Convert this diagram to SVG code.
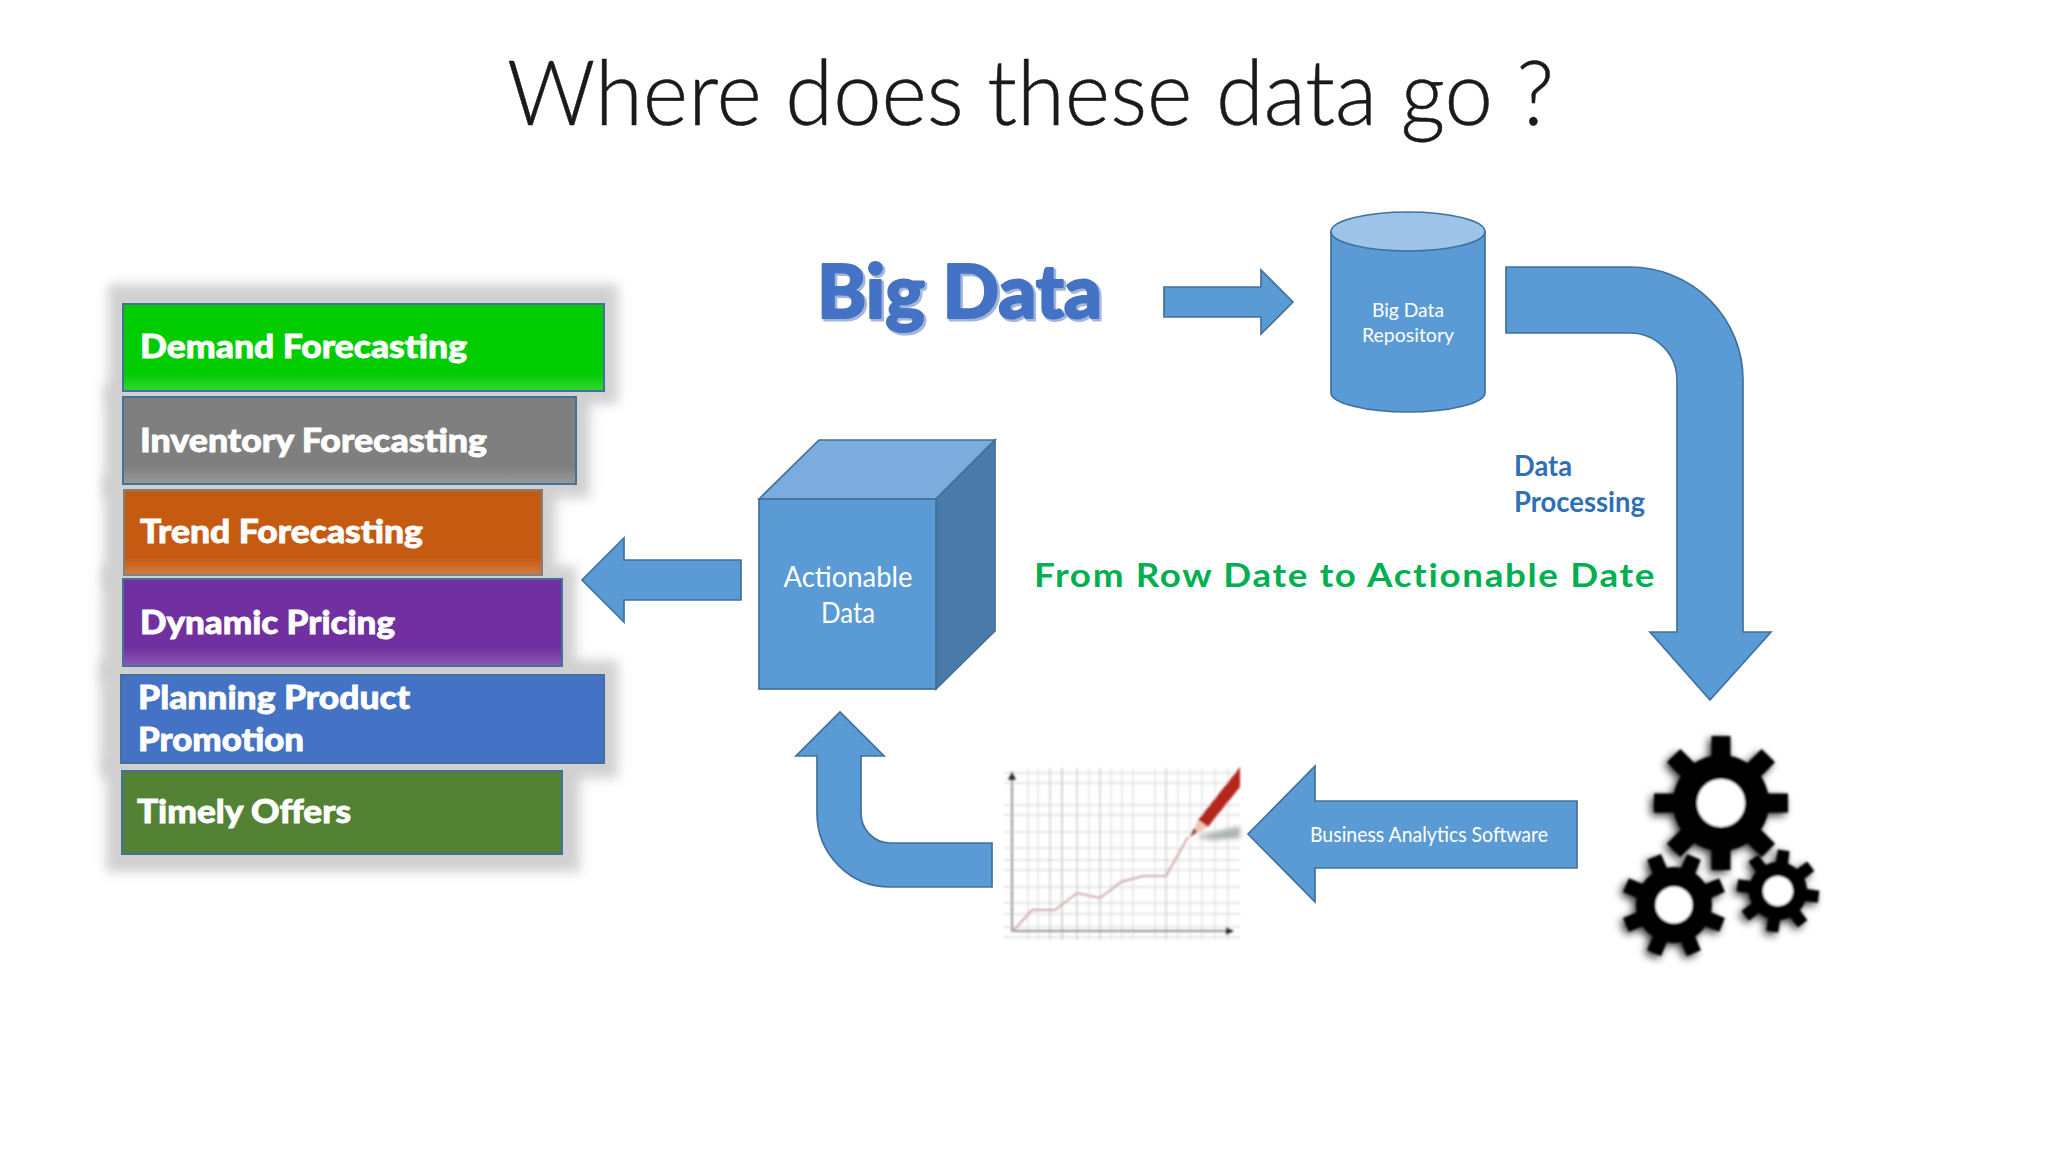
<svg xmlns="http://www.w3.org/2000/svg" width="2048" height="1152" viewBox="0 0 2048 1152">
<defs>
<style>
.blue{fill:#5b9bd5;stroke:#41719c;stroke-width:1.7;stroke-linejoin:miter}
.bar{stroke:#41719c;stroke-width:2}
.halo{fill:#d0d0d0;filter:url(#blur7)}
.lab{font-family:"Lato","Liberation Sans",sans-serif;font-weight:900;font-size:33px;fill:#fff;stroke:#fff;stroke-width:0.8}
.in{font-family:"Lato","Liberation Sans",sans-serif;fill:#fff;text-anchor:middle}
.grid{stroke:#e2dfdf;stroke-width:1.3;fill:none}
.gridd{stroke:#cdc9c9;stroke-width:1.3;fill:none}
</style>
<filter id="blur7" x="-20%" y="-40%" width="140%" height="180%"><feGaussianBlur stdDeviation="6"/></filter>
<filter id="blur1" x="-10%" y="-10%" width="120%" height="120%"><feGaussianBlur stdDeviation="0.9"/></filter>
<filter id="blur3" x="-20%" y="-100%" width="140%" height="300%"><feGaussianBlur stdDeviation="2"/></filter>
<filter id="gear" x="-30%" y="-30%" width="160%" height="160%">
<feGaussianBlur in="SourceAlpha" stdDeviation="4" result="b"/>
<feOffset in="b" dx="-3" dy="3" result="o"/>
<feComponentTransfer in="o" result="s"><feFuncA type="linear" slope="0.8"/></feComponentTransfer>
<feGaussianBlur in="SourceGraphic" stdDeviation="0.8" result="g"/>
<feMerge><feMergeNode in="s"/><feMergeNode in="g"/></feMerge>
</filter>
<linearGradient id="sheen" x1="0" y1="0" x2="0" y2="1">
<stop offset="0.8" stop-color="#fff" stop-opacity="0"/>
<stop offset="1" stop-color="#fff" stop-opacity="0.2"/>
</linearGradient>
</defs>
<rect width="2048" height="1152" fill="#fff"/>
<text id="title" x="507" y="125" font-family="Lato,'Liberation Sans',sans-serif" font-weight="300" font-size="90" fill="#1a1a1a" stroke="#1a1a1a" stroke-width="0.5" textLength="1047" lengthAdjust="spacingAndGlyphs">Where does these data go ?</text>

<g id="halos">
<rect class="halo" x="108" y="284" width="510" height="120"/>
<rect class="halo" x="104" y="384" width="486" height="114"/>
<rect class="halo" x="104" y="476" width="452" height="112"/>
<rect class="halo" x="102" y="566" width="474" height="114"/>
<rect class="halo" x="100" y="660" width="518" height="118"/>
<rect class="halo" x="106" y="758" width="474" height="114"/>
</g>
<g id="demand"><rect class="bar" x="123" y="304" width="481" height="87" fill="#00cc00"/><rect x="124" y="305" width="479" height="85" fill="url(#sheen)"/><text class="lab" x="140" y="358" textLength="327" lengthAdjust="spacingAndGlyphs">Demand Forecasting</text></g>
<g id="inventory"><rect class="bar" x="123" y="397" width="453" height="87" fill="#7f7f7f"/><rect x="124" y="398" width="451" height="85" fill="url(#sheen)"/><text class="lab" x="140" y="452" textLength="347" lengthAdjust="spacingAndGlyphs">Inventory Forecasting</text></g>
<g id="trend"><rect class="bar" x="124" y="490" width="418" height="85" fill="#c55a11" style="stroke:#7f8080"/><rect x="125" y="491" width="416" height="83" fill="url(#sheen)"/><text class="lab" x="140" y="543" textLength="283" lengthAdjust="spacingAndGlyphs">Trend Forecasting</text></g>
<g id="pricing"><rect class="bar" x="123" y="579" width="439" height="87" fill="#7030a0"/><rect x="124" y="580" width="437" height="85" fill="url(#sheen)"/><text class="lab" x="140" y="634" textLength="255" lengthAdjust="spacingAndGlyphs">Dynamic Pricing</text></g>
<g id="promotion"><rect class="bar" x="121" y="675" width="483" height="88" fill="#4472c4"/><text class="lab" x="138" y="709" textLength="272" lengthAdjust="spacingAndGlyphs">Planning Product</text><text class="lab" x="138" y="751" textLength="166" lengthAdjust="spacingAndGlyphs">Promotion</text></g>
<g id="offers"><rect class="bar" x="122" y="771" width="440" height="83" fill="#548235"/><text class="lab" x="137" y="823" textLength="214" lengthAdjust="spacingAndGlyphs">Timely Offers</text></g>

<g id="connectors">
<path class="blue" d="M1164 287H1261V270L1293 302 1261 334V317H1164Z"/>
<path class="blue" d="M1506 267H1630A113 113 0 0 1 1743 380V632H1771L1710 700 1650 632H1677V380A47 47 0 0 0 1630 333H1506Z"/>
<path class="blue" d="M741 560H624V538L582 580 624 622V600H741Z"/>
<path class="blue" d="M992 843H890A29 30 0 0 1 861 813V756H884L840 712 796 756H817V813A73 74 0 0 0 890 887H992Z"/>
<path class="blue" d="M1577 801H1315V766L1248 834 1315 902V868H1577Z"/>
<text class="in" x="1429" y="842" font-size="21" textLength="238" lengthAdjust="spacingAndGlyphs">Business Analytics Software</text>
</g>

<g id="bigdata" font-family="Lato,'Liberation Sans',sans-serif" font-weight="900" font-size="75">
<text x="819" y="320" fill="#a3b7de" stroke="#a3b7de" stroke-width="3" stroke-linejoin="round" textLength="285" lengthAdjust="spacingAndGlyphs">Big Data</text>
<text x="817" y="318" fill="#4472c4" stroke="#4472c4" stroke-width="2" stroke-linejoin="round" textLength="285" lengthAdjust="spacingAndGlyphs">Big Data</text>
</g>

<g id="repository">
<path class="blue" d="M1331 231.5V392.5A77 19.5 0 0 0 1485 392.5V231.5Z"/>
<ellipse cx="1408" cy="231.5" rx="77" ry="19.5" fill="#9dc3e6" stroke="#41719c" stroke-width="1.7"/>
<text class="in" x="1408" y="317" font-size="20" textLength="72" lengthAdjust="spacingAndGlyphs">Big Data</text>
<text class="in" x="1408" y="342" font-size="20" textLength="92" lengthAdjust="spacingAndGlyphs">Repository</text>
</g>

<g id="actionable">
<path d="M759 499L819 440H995L936 499Z" fill="#7cacdd" stroke="#41719c" stroke-width="1.7"/>
<path d="M936 499L995 440V631L936 689Z" fill="#497aa9" stroke="#41719c" stroke-width="1.7"/>
<rect class="blue" x="759" y="499" width="177" height="190"/>
<text class="in" x="848" y="587" font-size="28" textLength="129" lengthAdjust="spacingAndGlyphs">Actionable</text>
<text class="in" x="848" y="623" font-size="28" textLength="54" lengthAdjust="spacingAndGlyphs">Data</text>
</g>

<g id="data-processing" font-family="Lato,'Liberation Sans',sans-serif" font-weight="700" font-size="28" fill="#2e6fb5">
<text x="1514" y="476" textLength="58" lengthAdjust="spacingAndGlyphs">Data</text>
<text x="1514" y="512" textLength="131" lengthAdjust="spacingAndGlyphs">Processing</text>
</g>
<text id="tagline" x="1034" y="587" font-family="Lato,'Liberation Sans',sans-serif" font-weight="700" font-size="33" letter-spacing="1.5" fill="#00b050" textLength="622" lengthAdjust="spacingAndGlyphs">From Row Date to Actionable Date</text>

<g id="chart">
<g filter="url(#blur1)">
<path class="grid" d="M1028 768V940M1038 768V940M1062 768V940M1089 768V940M1111 768V940M1122 768V940M1133 768V940M1155 768V940M1178 768V940M1190 768V940M1202 768V940M1215 768V940M1228 768V940M1004 773H1240M1004 783H1240M1004 805H1240M1004 815H1240M1004 832H1240M1004 848H1240M1004 860H1240M1004 870H1240M1004 887H1240M1004 903H1240M1004 914H1240M1004 927H1240M1004 937H1240"/>
<path class="gridd" d="M1050 768V940M1062 768V940M1077 768V940M1100 768V940M1166 768V940"/>
<path d="M1012 775V931H1232" fill="none" stroke="#6e6a69" stroke-width="1.4"/>
<path d="M1012 771L1008 780H1016ZM1234 931L1226 927V935Z" fill="#2c2a2a"/>
<path d="M1013 931L1032 910H1055L1077 893 1100 898 1121 882 1143 876H1166L1188 837" fill="none" stroke="#cfa9a9" stroke-width="2"/>
<path d="M1195 837L1240 826V838L1212 840Z" fill="#aab3ae" filter="url(#blur3)"/>
<path d="M1198 820L1240 767V787L1208 827Z" fill="#b5281f"/>
<path d="M1198 820L1208 827 1190 837Z" fill="#eec6b8"/>
<path d="M1194 828L1197 832 1190 837Z" fill="#8a2a36"/>
</g>
</g>

<g id="gears" fill="#000" filter="url(#gear)">
<g id="gear-large" transform="translate(1721 803)">
<circle r="48"/>
<rect x="-9.5" y="-67" width="19" height="134"/>
<rect x="-9.5" y="-67" width="19" height="134" transform="rotate(45)"/>
<rect x="-9.5" y="-67" width="19" height="134" transform="rotate(90)"/>
<rect x="-9.5" y="-67" width="19" height="134" transform="rotate(135)"/>
<circle r="24" fill="#fff"/>
</g>
<g id="gear-medium" transform="translate(1674 905) rotate(22.5)">
<circle r="38"/>
<rect x="-7.5" y="-52" width="15" height="104"/>
<rect x="-7.5" y="-52" width="15" height="104" transform="rotate(45)"/>
<rect x="-7.5" y="-52" width="15" height="104" transform="rotate(90)"/>
<rect x="-7.5" y="-52" width="15" height="104" transform="rotate(135)"/>
<circle r="18.5" fill="#fff"/>
</g>
<g id="gear-small" transform="translate(1778 891) rotate(8)">
<circle r="29"/>
<rect x="-6" y="-41" width="12" height="82"/>
<rect x="-6" y="-41" width="12" height="82" transform="rotate(45)"/>
<rect x="-6" y="-41" width="12" height="82" transform="rotate(90)"/>
<rect x="-6" y="-41" width="12" height="82" transform="rotate(135)"/>
<circle r="15" fill="#fff"/>
</g>
</g>
</svg>
